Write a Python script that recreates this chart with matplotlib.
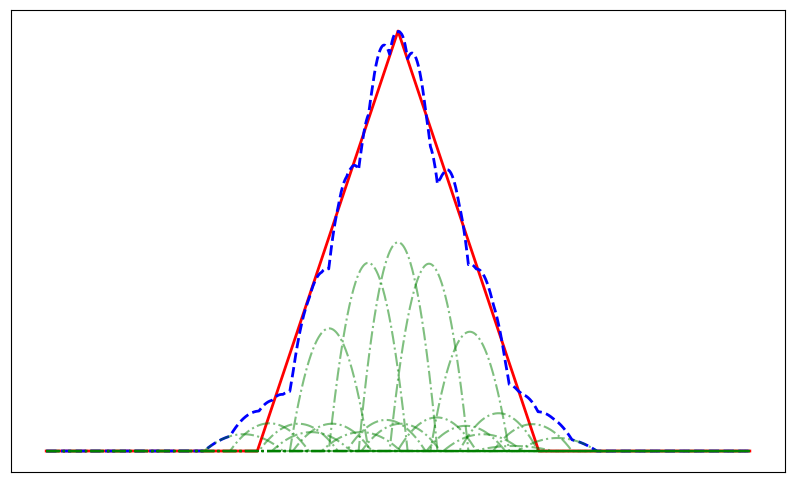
import numpy as np
import matplotlib.pyplot as plt

# bump centres / heights (x in units, triangle on [-1, 1], peak = 1)
centers = [0.0, -0.212, 0.22, -0.489, 0.51,
           -0.708, -0.467, -0.262, 0.276, 0.482, 0.715,
           -1.098, -0.914, -0.616, -0.085, 0.021, 0.602, 0.82, 0.956, 1.133]
heights = [0.497, 0.448, 0.446, 0.292, 0.284,
           0.065, 0.065, 0.045, 0.08, 0.06, 0.09,
           0.04, 0.066, 0.045, 0.074, 0.065, 0.04, 0.012, 0.064, 0.031]
half_width = 0.28

x = np.linspace(-2.5, 2.5, 2001)
tri = np.maximum(0, 1 - np.abs(x))


def bump(c, h):
    return h * np.maximum(0, 1 - ((x - c) / half_width) ** 2)


bumps = [bump(c, h) for c, h in zip(centers, heights)]
total = np.sum(bumps, axis=0)

fig = plt.figure(figsize=(7.94, 4.82), dpi=100)
ax = fig.add_axes([0.0139, 0.0207, 0.9748, 0.9585])
ax.plot(x, tri, 'r-', lw=2)
ax.plot(x, total, 'b--', lw=2)
for b in bumps:
    ax.plot(x, b, 'g-.', alpha=0.5, lw=1.5)
ax.set_xticks([])
ax.set_yticks([])
fig.savefig('out.png', dpi=100)
